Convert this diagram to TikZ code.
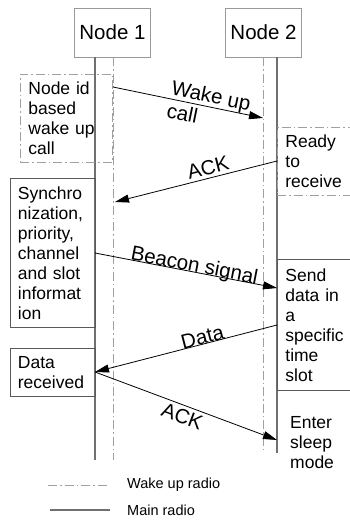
\documentclass[tikz,border=0pt]{standalone}
\usepackage{fontspec}
\setmainfont{Liberation Sans}
\usetikzlibrary{arrows.meta,positioning,calc}
\definecolor{wur}{HTML}{A0A0A0}
\definecolor{mrd}{HTML}{707070}
\definecolor{bxl}{HTML}{999999}
\definecolor{bxd}{HTML}{5A5A5A}
\newcommand{\bodyfont}{\fontsize{17.5}{20}\selectfont}
\newcommand{\headfont}{\fontsize{20.5}{23}\selectfont}
\newcommand{\legfont}{\fontsize{14.5}{17}\selectfont}

\begin{document}
\begin{tikzpicture}[x=1pt,y=-1pt,
  wakeup/.style={draw=wur,line width=0.8pt,dash pattern=on 9pt off 3pt on 1.5pt off 3pt},
  mainr/.style={draw=mrd,line width=1.5pt},
  head/.style={draw=bxl,line width=0.8pt,minimum width=76pt,minimum height=49pt,inner sep=0pt,font=\headfont},
  note/.style={anchor=north west,inner xsep=8pt,inner ysep=0pt,align=left,font=\bodyfont},
  msg/.style={-{Triangle[length=14pt,width=8pt]},line width=0.8pt},
  lbl/.style={sloped,font=\headfont,inner sep=2pt}]
 \clip (0,0) rectangle (350,522);
 % heads
 \node[head] (n1) at (112.5,32.5) {Node 1};
 \node[head] (n2) at (263.5,32.5) {Node 2};
 % lifelines
 \coordinate (n1w) at (113,460); \coordinate (n1m) at (95,460);
 \coordinate (n2w) at (263,451); \coordinate (n2m) at (277,453);
 \draw[wakeup] (n1.south -| n1w) -- (n1w);
 \draw[mainr] (n1.south -| n1m) -- (n1m);
 \draw[wakeup] (n2.south -| n2w) -- (n2w);
 \draw[mainr] (n2.south -| n2m) -- (n2m);
 % notes
 \node[note,wakeup,text width=76pt,minimum height=88pt] (idnote) at (20,74) {Node id\\based\\wake up\\call};
 \node[note,wakeup,text width=64pt,minimum height=68pt] (ready) at (277,127) {Ready\\to\\receive};
 \node[note,draw=bxd,line width=0.8pt,text width=69pt,minimum height=149pt] (sync) at (9.5,178) {Synchro\\nization,\\priority,\\channel\\and slot\\informat\\ion};
 \node[note,draw=bxd,line width=0.8pt,text width=64pt,minimum height=131pt] (send) at (277,259) {Send\\data in\\a\\specific\\time\\slot};
 \node[note,draw=bxd,line width=0.8pt,text width=69pt,minimum height=48pt] (drecv) at (9.5,348) {Data\\received};
 \node[note,anchor=west,text width=60pt] (sleep) at (282,443) {Enter\\sleep\\mode};
 % messages
 \coordinate (w1) at (113,87);  \coordinate (w2) at (263,118);
 \coordinate (a1) at (277,161); \coordinate (a2) at (115,202);
 \coordinate (b1) at (95,253);  \coordinate (b2) at (277,288);
 \coordinate (d1) at (277,325); \coordinate (d2) at (95,372);
 \coordinate (k2) at (277,440);
 \draw[msg] (w1) -- node[lbl,pos=0.64,align=left] {Wake up\\call} (w2);
 \draw[msg] (a1) -- node[lbl,pos=0.41,above,inner sep=3pt] {ACK} (a2);
 \draw[msg] (b1) -- node[lbl,pos=0.54,anchor=base] {Beacon signal} (b2);
 \draw[msg] (d1) -- node[lbl,pos=0.40,anchor=base] {Data} (d2);
 \draw[msg] (d2) -- node[lbl,pos=0.50,below,inner sep=3pt] {ACK} (k2);
 % legend
 \coordinate (lw1) at (48,485); \coordinate (lw2) at (108,485);
 \coordinate (lm1) at (50,510); \coordinate (lm2) at (110,510);
 \draw[wakeup] (lw1) -- (lw2);
 \draw[mainr] (lm1) -- (lm2);
 \node[anchor=west,inner sep=0pt,font=\legfont] (lgw) at (127,485) {Wake up radio};
 \node[anchor=west,inner sep=0pt,font=\legfont] (lgm) at (127,510) {Main radio};
\end{tikzpicture}
\end{document}
